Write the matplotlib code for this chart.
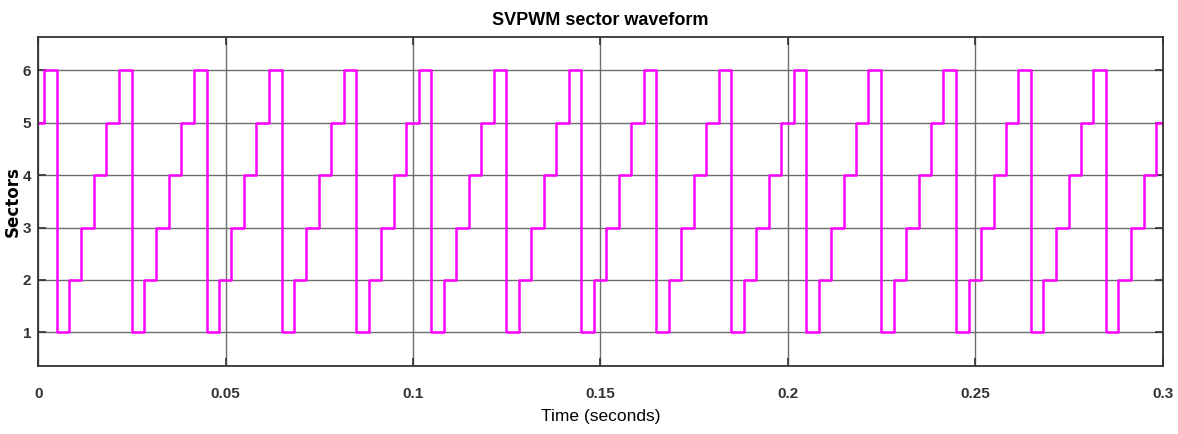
import matplotlib
matplotlib.use("Agg")
import matplotlib.pyplot as plt

plt.rcParams['font.family'] = ['DejaVu Sans Condensed', 'Liberation Sans', 'DejaVu Sans']

# switching instants (s) and sector entered at each one
switch_t = [0.0,
            0.0015, 0.0049, 0.0082, 0.0115, 0.0149, 0.0182,
            0.0215, 0.0249, 0.0282, 0.0315, 0.0349, 0.0382,
            0.0415, 0.0449, 0.0482, 0.0515, 0.0549, 0.0582,
            0.0615, 0.0649, 0.0682, 0.0715, 0.0749, 0.0782,
            0.0815, 0.0849, 0.0882, 0.0915, 0.0949, 0.0982,
            0.1015, 0.1049, 0.1082, 0.1115, 0.1149, 0.1182,
            0.1215, 0.1249, 0.1282, 0.1315, 0.1349, 0.1382,
            0.1415, 0.1449, 0.1482, 0.1515, 0.1549, 0.1582,
            0.1615, 0.1649, 0.1682, 0.1715, 0.1749, 0.1782,
            0.1815, 0.1849, 0.1882, 0.1915, 0.1949, 0.1982,
            0.2015, 0.2049, 0.2082, 0.2115, 0.2149, 0.2182,
            0.2215, 0.2249, 0.2282, 0.2315, 0.2349, 0.2382,
            0.2415, 0.2449, 0.2482, 0.2515, 0.2549, 0.2582,
            0.2615, 0.2649, 0.2682, 0.2715, 0.2749, 0.2782,
            0.2815, 0.2849, 0.2882, 0.2915, 0.2949, 0.2982,
            0.3]
sector = [5,
          6, 1, 2, 3, 4, 5,
          6, 1, 2, 3, 4, 5,
          6, 1, 2, 3, 4, 5,
          6, 1, 2, 3, 4, 5,
          6, 1, 2, 3, 4, 5,
          6, 1, 2, 3, 4, 5,
          6, 1, 2, 3, 4, 5,
          6, 1, 2, 3, 4, 5,
          6, 1, 2, 3, 4, 5,
          6, 1, 2, 3, 4, 5,
          6, 1, 2, 3, 4, 5,
          6, 1, 2, 3, 4, 5,
          6, 1, 2, 3, 4, 5,
          6, 1, 2, 3, 4, 5,
          6, 1, 2, 3, 4, 5,
          5]

xticks = [0, 0.05, 0.1, 0.15, 0.2, 0.25, 0.3]
xtick_labels = ['0', '0.05', '0.1', '0.15', '0.2', '0.25', '0.3']
yticks = [1, 2, 3, 4, 5, 6]

fig = plt.figure(figsize=(11.78, 4.34), dpi=100)
ax = fig.add_axes([0.0325, 0.157, 0.9545, 0.757])

ax.step(switch_t, sector, where='post', color='#ff00ff', lw=1.8)

ax.set_xlim(0, 0.3)
ax.set_ylim(0.36, 6.63)
ax.set_xticks(xticks)
ax.set_xticklabels(xtick_labels)
ax.set_yticks(yticks)
ax.grid(True, color='#6e6e6e', lw=1.0)
ax.set_axisbelow(True)
ax.tick_params(direction='in', length=6, width=1.2, top=True, right=True,
               labelsize=11, colors='#333333', pad=15)
ax.tick_params(axis='y', pad=5)
for lab in ax.get_xticklabels() + ax.get_yticklabels():
    lab.set_fontweight('bold')
for s in ax.spines.values():
    s.set_color('#333333')
    s.set_linewidth(1.3)

ax.set_title('SVPWM sector waveform', fontsize=13, fontweight='bold', pad=9)
ax.set_xlabel('Time (seconds)', fontsize=12.5, labelpad=6)
ax.set_ylabel('Sectors', fontsize=12, fontweight='bold', family='DejaVu Sans', labelpad=1)

fig.savefig('out.png', dpi=100)
